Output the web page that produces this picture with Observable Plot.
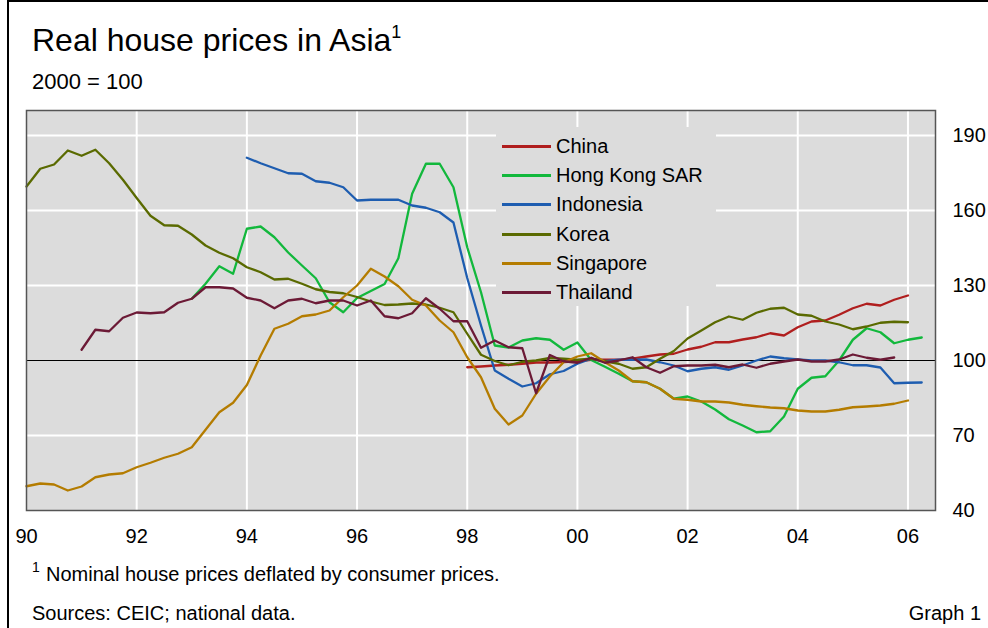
<!DOCTYPE html>
<html><head><meta charset="utf-8">
<script src="https://cdn.jsdelivr.net/npm/d3@7"></script>
<script src="https://cdn.jsdelivr.net/npm/@observablehq/plot@0.6"></script>
<style>
body{margin:0;background:#fff;font-family:"Liberation Sans",Arial,sans-serif;color:#000}
#wrap{position:relative;width:988px;height:628px;overflow:hidden}
.abs{position:absolute;white-space:nowrap;line-height:1}
#chart{position:absolute;left:0;top:0}
#legend{position:absolute;left:496px;top:127px;width:220px;height:179px;background:#dcdcdc}
.li{position:absolute;left:6px;height:20px;font-size:20px;line-height:20px}
.li span.sw{position:absolute;left:0;top:9px;width:49px;height:3px}
.li span.tx{position:absolute;left:54px;top:0;white-space:nowrap}
</style></head><body>
<div id="wrap">
  <div class="abs" style="left:7px;top:0;width:990px;height:640px;border-top:2px solid #000;border-left:2px solid #000;box-sizing:border-box"></div>
  <div class="abs" style="left:32px;top:24px;font-size:32px">Real house prices in Asia<span style="font-size:18px;position:relative;top:-13px">1</span></div>
  <div class="abs" style="left:32px;top:71px;font-size:22px">2000 = 100</div>
  <div id="chart"></div>
  <div id="legend"></div>
  <div class="abs" style="left:32px;top:560px;font-size:14px">1</div>
  <div class="abs" style="left:46px;top:564px;font-size:20px">Nominal house prices deflated by consumer prices.</div>
  <div class="abs" style="left:32px;top:603px;font-size:20px">Sources: CEIC; national data.</div>
  <div class="abs" style="right:7px;top:603px;font-size:20px">Graph 1</div>
</div>
<script>
// Series names and colours
const seriesNames = ["China", "Hong Kong SAR", "Indonesia", "Korea", "Singapore", "Thailand"];
const seriesColors = ["#b01e1e", "#12b83c", "#1e5db0", "#5a6a00", "#b47c00", "#6c1a36"];

// Quarterly values; first observation year (quarter 1)
const chinaStart = 1998;
const china = [97.3, 97.6, 98.0, 98.3, 98.7, 99.2, 99.2, 99.4, 99.7, 100.3, 100.3, 100.3,
  100.7, 101.6, 102.4, 102.7, 104.4, 105.5, 107.3, 107.3, 108.4, 109.3, 110.9, 110.0,
  113.3, 115.6, 116.0, 118.3, 120.9, 122.7, 122.0, 124.3, 126.0];

const hongKongStart = 1993;
const hongKong = [124.7, 130.7, 137.7, 134.7, 152.7, 153.6, 149.3, 143.2, 138.0, 132.9, 123.3, 119.3,
  125.0, 127.8, 130.6, 140.9, 166.7, 178.7, 178.7, 169.3, 145.3, 127.3, 106.0, 105.2,
  108.0, 108.9, 108.3, 104.3, 107.2, 100.2, 97.5, 94.7, 91.7, 91.3, 88.7, 84.7,
  85.6, 83.6, 80.4, 76.5, 74.0, 71.3, 71.7, 77.6, 88.7, 93.1, 93.7, 100.0,
  108.3, 112.9, 111.3, 106.9, 108.3, 109.2];

const indonesiaStart = 1994;
const indonesia = [181.1, 178.9, 176.9, 174.9, 174.7, 171.7, 171.1, 169.3, 164.0, 164.3, 164.3, 164.3,
  162.0, 161.1, 159.3, 155.2, 133.0, 114.0, 96.0, 92.7, 89.6, 90.9, 94.5, 95.8,
  98.7, 100.7, 99.7, 100.3, 100.3, 100.4, 99.3, 98.0, 95.7, 96.7, 97.3, 96.3,
  98.0, 100.0, 101.6, 100.9, 100.4, 100.0, 100.0, 99.3, 98.1, 98.1, 97.2, 90.9,
  91.1, 91.2];

const koreaStart = 1990;
const korea = [169.6, 176.7, 178.4, 184.0, 181.9, 184.3, 178.9, 172.3, 165.0, 157.9, 154.1, 153.9,
  150.4, 146.0, 143.1, 140.9, 137.3, 135.3, 132.4, 132.7, 130.7, 128.5, 127.4, 126.9,
  125.4, 123.6, 122.2, 122.4, 122.8, 122.4, 121.1, 119.3, 110.7, 102.3, 99.8, 98.1,
  99.5, 100.0, 101.0, 100.7, 100.3, 100.7, 99.7, 98.7, 96.7, 97.3, 100.7, 103.8,
  108.8, 112.0, 115.3, 117.6, 116.3, 119.1, 120.7, 121.1, 118.4, 117.9, 115.6, 114.4,
  112.5, 113.6, 115.1, 115.5, 115.3];

const singaporeStart = 1990;
const singapore = [49.7, 50.8, 50.4, 48.0, 49.6, 53.3, 54.4, 54.9, 57.3, 59.1, 61.1, 62.7,
  65.3, 72.3, 79.3, 83.1, 90.2, 102.0, 112.7, 114.7, 117.7, 118.4, 120.0, 125.3,
  130.0, 136.7, 133.6, 129.7, 124.3, 122.0, 116.0, 111.3, 101.3, 93.3, 80.7, 74.4,
  78.0, 86.7, 93.6, 99.3, 101.6, 102.9, 99.3, 96.0, 91.7, 91.3, 88.7, 84.7,
  84.3, 83.6, 83.6, 83.2, 82.3, 81.7, 81.2, 80.9, 80.0, 79.6, 79.6, 80.3,
  81.3, 81.6, 82.0, 82.7, 84.0];

const thailandStart = 1991;
const thailand = [104.3, 112.3, 111.7, 117.1, 119.2, 118.9, 119.3, 123.1, 124.7, 129.3, 129.3, 128.8,
  125.1, 124.0, 120.9, 124.0, 124.7, 122.9, 124.0, 124.0, 122.0, 124.0, 117.7, 116.9,
  118.9, 124.9, 120.7, 115.7, 115.7, 105.1, 108.0, 105.3, 104.9, 86.9, 102.2, 99.7,
  99.1, 101.1, 99.1, 100.0, 101.3, 97.3, 95.1, 97.7, 98.0, 98.0, 98.3, 97.3,
  98.4, 97.1, 98.7, 99.6, 100.4, 99.6, 99.6, 100.4, 102.4, 101.1, 100.3, 101.2];

// Axis ticks
const xTicks = [1990, 1992, 1994, 1996, 1998, 2000, 2002, 2004, 2006];
const yTicks = [40, 70, 100, 130, 160, 190];
const yGrid = [70, 130, 160, 190];

const seriesData = [
  [china, chinaStart], [hongKong, hongKongStart], [indonesia, indonesiaStart],
  [korea, koreaStart], [singapore, singaporeStart], [thailand, thailandStart]
];
const rows = [];
seriesData.forEach(([vals, start], k) => {
  vals.forEach((v, i) => rows.push({series: seriesNames[k], t: start + i / 4, v}));
});

const font = '"Liberation Sans", Arial, sans-serif';
const chart = Plot.plot({
  width: 988,
  height: 560,
  marginTop: 110,
  marginBottom: 50,
  marginLeft: 26,
  marginRight: 53,
  style: {fontFamily: font, fontSize: "20px", background: "transparent", color: "#000", overflow: "visible"},
  x: {domain: [1990, 2006.5], label: null},
  y: {domain: [40, 200], label: null},
  color: {domain: seriesNames, range: seriesColors},
  marks: [
    Plot.frame({fill: "#dcdcdc", stroke: null}),
    Plot.ruleX(xTicks.slice(1), {stroke: "#fff", strokeWidth: 2}),
    Plot.ruleY(yGrid, {stroke: "#fff", strokeWidth: 2}),
    Plot.ruleY([100], {stroke: "#000", strokeWidth: 1.2}),
    Plot.line(rows, {x: "t", y: "v", z: "series", stroke: "series", strokeWidth: 2.3}),
    Plot.frame({stroke: "#555", strokeWidth: 1.5}),
    Plot.axisX({ticks: xTicks, tickFormat: d => String(d).slice(2), tickSize: 0, tickPadding: 18, fontSize: 20, label: null}),
    Plot.axisY({anchor: "right", ticks: yTicks, tickSize: 0, tickPadding: 17, fontSize: 20, label: null})
  ]
});
document.getElementById("chart").appendChild(chart);

// Legend
const legend = document.getElementById("legend");
const rowY = [9, 38, 67, 97, 126, 155];
seriesNames.forEach((name, i) => {
  const d = document.createElement("div");
  d.className = "li";
  d.style.top = rowY[i] + "px";
  d.innerHTML = `<span class="sw" style="background:${seriesColors[i]}"></span><span class="tx">${name}</span>`;
  legend.appendChild(d);
});
</script>
</body></html>
